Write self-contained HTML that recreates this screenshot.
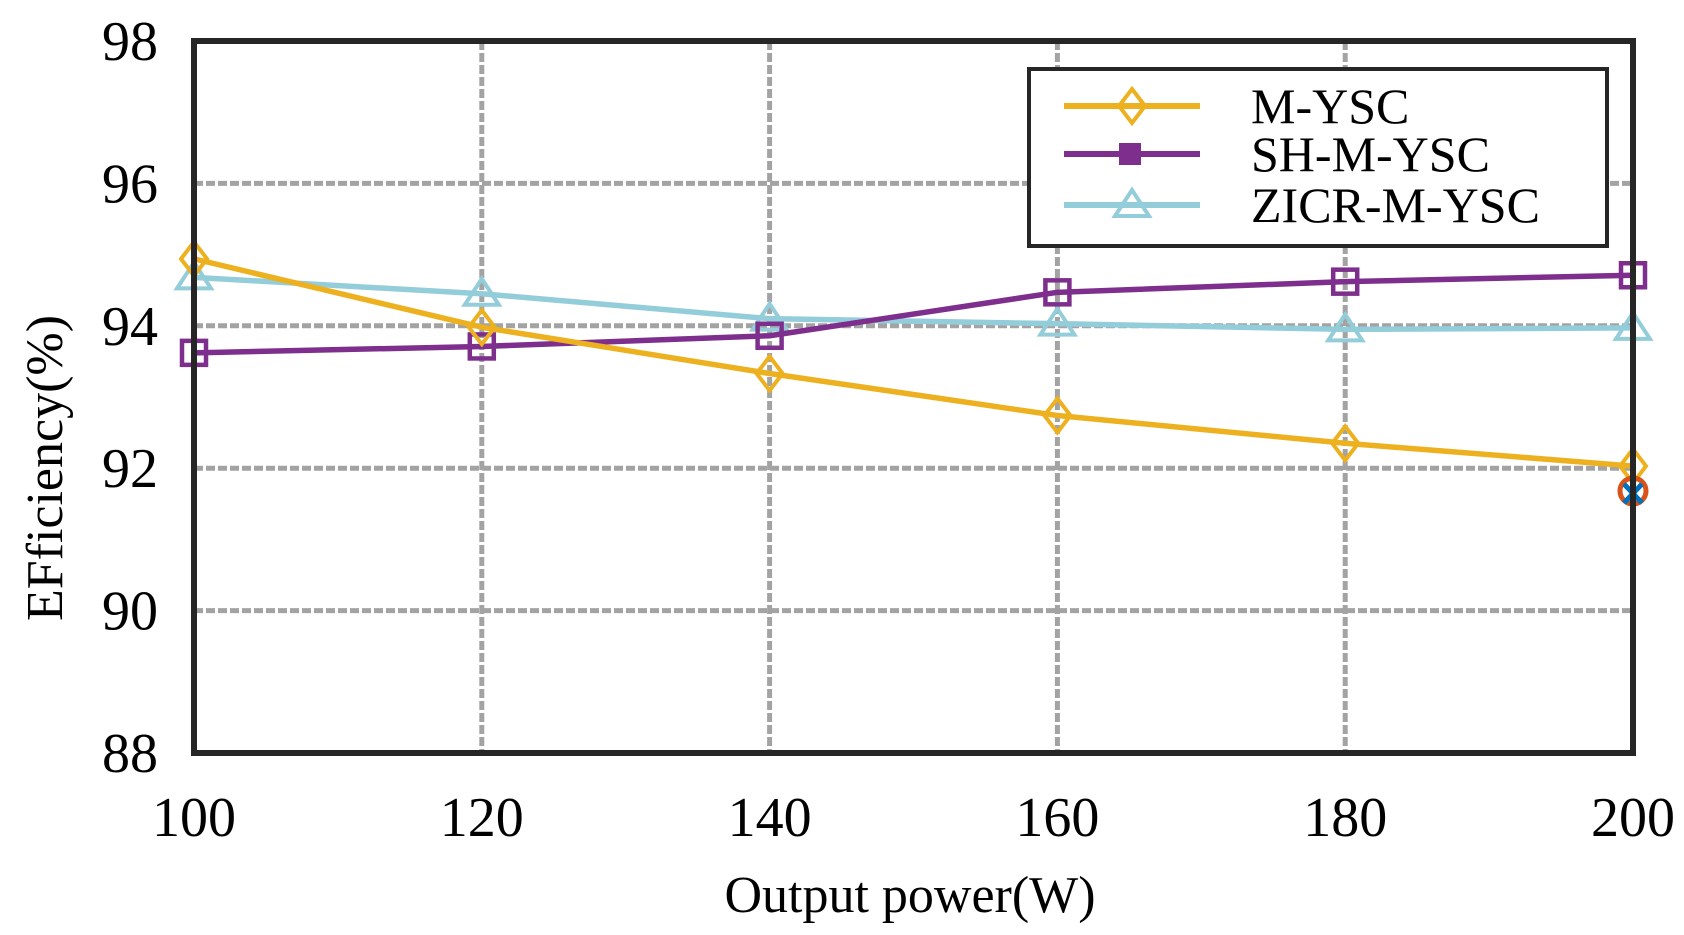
<!DOCTYPE html>
<html><head><meta charset="utf-8">
<style>
html,body{margin:0;padding:0;background:#fff;}
svg{display:block;font-family:"Liberation Serif",serif;}
text{font-family:"Liberation Serif",serif;}
</style></head>
<body>
<svg id="chart" width="1684" height="935" viewBox="0 0 1684 935" xmlns="http://www.w3.org/2000/svg">
<g id="grid"></g>
<g id="series"></g>
<g id="axes"></g>
<g id="legend"></g>
</svg>
<script>
const categories = [100, 120, 140, 160, 180, 200];
const yTicks = [88, 90, 92, 94, 96, 98];
const gridY = [90, 92, 94, 96];
const myscValues = [94.94, 93.98, 93.33, 92.74, 92.35, 92.03];
const shValues = [93.62, 93.71, 93.86, 94.47, 94.62, 94.71];
const zicrValues = [94.68, 94.45, 94.10, 94.03, 93.95, 93.97];
const extraX = [200];
const extraY = [91.68];

const L = 194, R = 1633, T = 41, B = 753;
const xMin = 100, xMax = 200, yMin = 88, yMax = 98;
const NS = 'http://www.w3.org/2000/svg';
const FF = 'Liberation Serif, serif';
function xs(v){ return L + (v - xMin) / (xMax - xMin) * (R - L); }
function ys(v){ return B - (v - yMin) / (yMax - yMin) * (B - T); }
function mk(tag, attrs, parent){
  const e = document.createElementNS(NS, tag);
  for (const k in attrs) e.setAttribute(k, attrs[k]);
  if (tag === 'text') e.setAttribute('font-family', FF);
  parent.appendChild(e);
  return e;
}
const grid = document.getElementById('grid');
const series = document.getElementById('series');
const axes = document.getElementById('axes');
const legend = document.getElementById('legend');

gridY.forEach(v => {
  const ln = mk('line', {x1: L, x2: R, y1: ys(v), y2: ys(v), stroke: '#a3a3a3', 'stroke-width': 5, 'stroke-dasharray': '9 3'}, grid);
  
  
});
categories.slice(1, -1).forEach(v => {
  const ln = mk('line', {x1: xs(v), x2: xs(v), y1: T, y2: B, stroke: '#a3a3a3', 'stroke-width': 5, 'stroke-dasharray': '9 3'}, grid);
  
  
});

const box = mk('rect', {x: L, y: T, width: R - L, height: B - T, fill: 'none', stroke: '#262626', 'stroke-width': 6}, axes);



yTicks.forEach(v => {
  const t = mk('text', {x: 158, y: ys(v) + 19, 'font-size': 56, 'text-anchor': 'end', fill: '#000'}, axes);
  t.textContent = v;
  
  
});
categories.forEach(v => {
  const t = mk('text', {x: xs(v), y: 836, 'font-size': 56, 'text-anchor': 'middle', fill: '#000'}, axes);
  t.textContent = v;
  
  
});
const xt = mk('text', {x: 910, y: 912, 'font-size': 52, 'text-anchor': 'middle', fill: '#000'}, axes);
xt.textContent = 'Output power(W)';


const yt = mk('text', {x: 0, y: 0, 'font-size': 52, 'text-anchor': 'middle', fill: '#000', transform: 'translate(62,468) rotate(-90)'}, axes);
yt.textContent = 'EFficiency(%)';



function marker(kind, cx, cy, color, parent){
  let e;
  if (kind === 'diamond') e = mk('polygon', {points: `${cx},${cy-17} ${cx+13},${cy} ${cx},${cy+17} ${cx-13},${cy}`, fill: 'none', stroke: color, 'stroke-width': 4}, parent);
  else if (kind === 'square') e = mk('rect', {x: cx-12, y: cy-12, width: 24, height: 24, fill: 'none', stroke: color, 'stroke-width': 4.5}, parent);
  else e = mk('polygon', {points: `${cx},${cy-15} ${cx+17},${cy+11} ${cx-17},${cy+11}`, fill: 'none', stroke: color, 'stroke-width': 4}, parent);
  return e;
}
function drawSeries(name, vals, color, kind){
  const g = mk('g', {}, series);
  
  
  const pts = vals.map((v, i) => xs(categories[i]) + ',' + ys(v)).join(' ');
  const pl = mk('polyline', {points: pts, fill: 'none', stroke: color, 'stroke-width': 5.5, 'stroke-linejoin': 'round'}, g);
  
  
  vals.forEach((v, i) => {
    const m = marker(kind, xs(categories[i]), ys(v), color, g);
    
    
  });
}
drawSeries('zicr-m-ysc', zicrValues, '#93CDDA', 'triangle');
drawSeries('sh-m-ysc', shValues, '#7E2F8E', 'square');
drawSeries('m-ysc', myscValues, '#EDB120', 'diamond');

extraX.forEach((v, i) => {
  const c = mk('circle', {cx: xs(v), cy: ys(extraY[i]), r: 13, fill: 'none', stroke: '#D95319', 'stroke-width': 5}, series);
  
  
  const x = mk('path', {d: `M${xs(v)-9},${ys(extraY[i])-7} L${xs(v)+9},${ys(extraY[i])+12} M${xs(v)+9},${ys(extraY[i])-7} L${xs(v)-9},${ys(extraY[i])+12}`, stroke: '#0072BD', 'stroke-width': 5}, series);
  
  
});

const lb = mk('rect', {x: 1029, y: 69, width: 578, height: 177, fill: '#fff', stroke: '#262626', 'stroke-width': 4}, legend);


const legItems = [['M-YSC', '#EDB120', 'diamond', 106], ['SH-M-YSC', '#7E2F8E', 'square', 154], ['ZICR-M-YSC', '#93CDDA', 'triangle', 205]];
legItems.forEach(it => {
  const g = mk('g', {}, legend);
  
  
  mk('line', {x1: 1064, x2: 1200, y1: it[3], y2: it[3], stroke: it[1], 'stroke-width': 6}, g);
  if (it[2] === 'square') mk('rect', {x: 1119, y: it[3]-11, width: 22, height: 22, fill: it[1]}, g);
  else marker(it[2], 1132, it[3], it[1], g);
  const t = mk('text', {x: 1251, y: it[3] + 17, 'font-size': 50, fill: '#000'}, g);
  t.textContent = it[0];
});
</script>
</body></html>
